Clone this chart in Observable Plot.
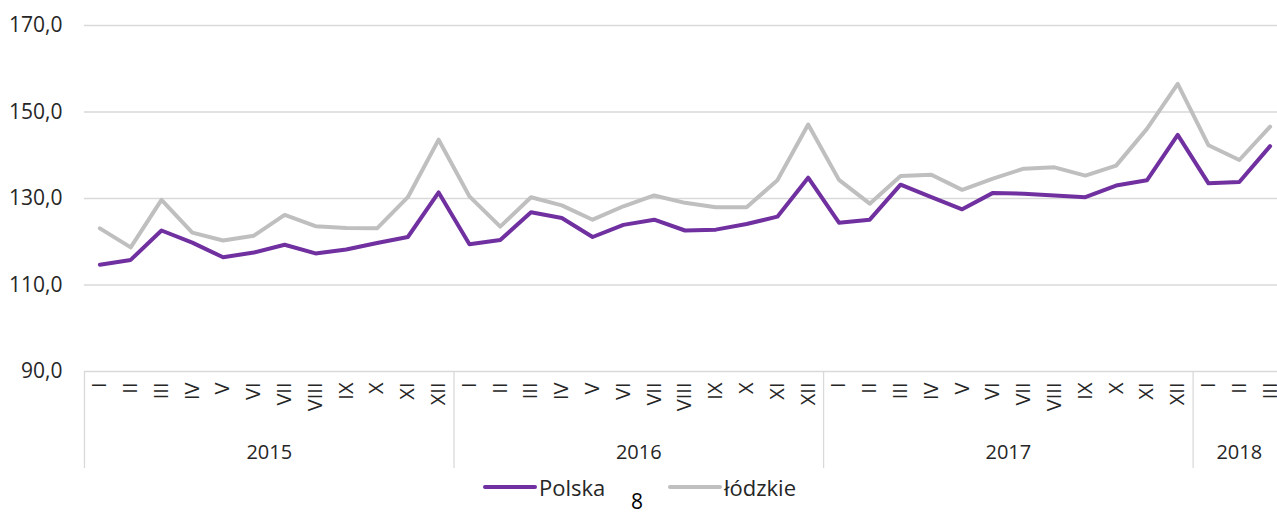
<!DOCTYPE html>
<html><head><meta charset="utf-8">
<script src="https://cdn.jsdelivr.net/npm/d3@7"></script>
<script src="https://cdn.jsdelivr.net/npm/@observablehq/plot@0.6"></script>
<style>
body{margin:0;background:#fff;}
#wrap{position:relative;width:1277px;height:515px;overflow:hidden;font-family:"Open Sans",sans-serif;color:#262626;}
#legend{position:absolute;left:0;top:472px;width:1277px;height:30px;}
.item{position:absolute;top:0;height:30px;display:flex;align-items:center;font-size:22px;}
.sw{display:inline-block;width:54px;height:4px;border-radius:2px;margin-right:2px;}
#page{position:absolute;left:631px;top:488px;font-size:21px;line-height:26px;color:#000;}
</style></head><body><div id="wrap"><div id="chart"></div><div id="legend"></div><div id="page">8</div></div>
<script>
const years = ["2015", "2016", "2017", "2018"];
const monthsPerYear = [12, 12, 12, 3];
const romans = ["I","II","III","IV","V","VI","VII","VIII","IX","X","XI","XII"];
const seriesNames = ["Polska", "łódzkie"];
const seriesColors = ["#7030a0", "#bfbfbf"];
const polska = [114.7,115.8,122.6,119.8,116.4,117.5,119.3,117.3,118.2,119.7,121.1,131.4,
  119.4,120.4,126.8,125.5,121.1,123.9,125.1,122.6,122.8,124.1,125.8,134.8,
  124.4,125.1,133.2,130.3,127.5,131.3,131.1,130.7,130.3,133.0,134.2,144.7,
  133.5,133.8,142.1];
const lodzkie = [123.1,118.7,129.7,122.1,120.3,121.4,126.2,123.6,123.2,123.1,130.3,143.6,
  130.5,123.5,130.3,128.4,125.1,128.2,130.7,129.0,128.0,128.0,134.2,147.1,
  134.3,128.8,135.2,135.5,132.0,134.6,136.9,137.2,135.3,137.6,146.1,156.5,
  142.3,138.9,146.6];
const yTicks = [90, 110, 130, 150, 170];

// build tables
const months = [];
const yearSpans = [];
let idx = 0;
years.forEach((yr, k) => {
  const start = idx;
  for (let m = 0; m < monthsPerYear[k]; m++) {
    months.push({i: idx, label: romans[m], year: yr});
    idx++;
  }
  yearSpans.push({year: yr, start: start - 0.5, center: start + (monthsPerYear[k] - 1) / 2});
});
const rows = [];
[polska, lodzkie].forEach((vals, s) => {
  vals.forEach((v, i) => rows.push({i, value: v, series: seriesNames[s]}));
});

const fmt = d => d3.format(".1f")(d).replace(".", ",");
const font = '"Open Sans", sans-serif';

const chart = Plot.plot({
  width: 1277,
  height: 470,
  marginLeft: 84,
  marginTop: 25,
  marginBottom: 99,
  marginRight: 0,
  style: {fontFamily: font, color: "#262626", background: "#fff"},
  x: {type: "linear", domain: [-0.5, 38.5], range: [84, 1285], axis: null},
  y: {domain: [90, 170], axis: null},
  color: {domain: seriesNames, range: seriesColors},
  marks: [
    Plot.ruleY(yTicks, {stroke: "#d9d9d9", strokeWidth: 1.3}),
    Plot.ruleX(yearSpans, {x: "start", stroke: "#d9d9d9", strokeWidth: 1.3, insetTop: 346, insetBottom: -97}),
    Plot.text(yTicks, {x: -0.5, y: d => d, text: fmt, textAnchor: "end", dx: -22, fontSize: 21, fill: "#262626"}),
    Plot.line(rows, {x: "i", y: "value", z: "series", stroke: "series", strokeWidth: 4, strokeLinejoin: "round"}),
    Plot.text(months, {x: "i", y: () => 90, text: "label", rotate: -90, textAnchor: "end", dy: 11, fontSize: 20, fill: "#262626"}),
    Plot.text(yearSpans, {x: "center", y: () => 90, text: "year", dy: 81, fontSize: 20, fill: "#262626"})
  ]
});
document.getElementById("chart").appendChild(chart);

const legend = document.getElementById("legend");
const legendLeft = [483, 668];
seriesNames.forEach((n, k) => {
  const it = document.createElement("div");
  it.className = "item";
  it.style.left = legendLeft[k] + "px";
  it.innerHTML = `<span class="sw" style="background:${seriesColors[k]}"></span><span>${n}</span>`;
  legend.appendChild(it);
});
</script></body></html>
